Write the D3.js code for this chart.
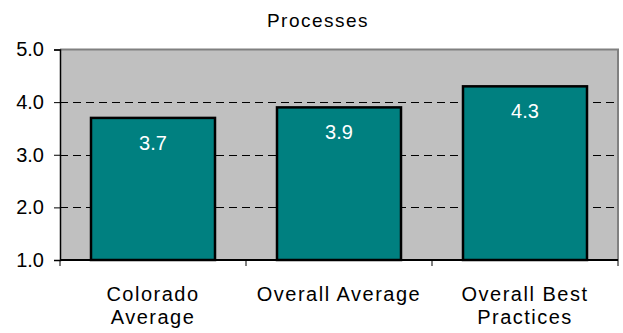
<!DOCTYPE html>
<html>
<head>
<meta charset="utf-8">
<script src="https://cdn.jsdelivr.net/npm/d3@7"></script>
<style>
  html, body { margin: 0; padding: 0; background: #fff; }
  svg { display: block; }
  text { font-family: "Liberation Sans", Arial, sans-serif; }
</style>
</head>
<body>
<svg id="chart" width="623" height="333"></svg>
<script>
// Chart data
const title = "Processes";
const categories = ["Colorado Average", "Overall Average", "Overall Best Practices"];
const categoryLines = [["Colorado", "Average"], ["Overall Average"], ["Overall Best", "Practices"]];
const values = [3.7, 3.9, 4.3];
const yTicks = [1, 2, 3, 4, 5];
const gridTicks = [2, 3, 4];

const svg = d3.select("#chart");
const plot = { left: 60, right: 618, top: 49.5, bottom: 260 };

const x = d3.scaleBand()
  .domain(categories)
  .range([plot.left, plot.right])
  .paddingInner(1 / 3)
  .paddingOuter(1 / 6);

const y = d3.scaleLinear()
  .domain([1, 5])
  .range([plot.bottom, plot.top]);

// Plot background and frame
svg.append("rect")
  .attr("x", plot.left).attr("y", plot.top)
  .attr("width", plot.right - plot.left)
  .attr("height", plot.bottom - plot.top)
  .attr("fill", "#c0c0c0");
svg.append("path")
  .attr("d", `M${plot.left},${plot.top}H${plot.right}V${plot.bottom}`)
  .attr("fill", "none")
  .attr("stroke", "#808080")
  .attr("stroke-width", 2);

// Dashed gridlines
svg.append("g")
  .selectAll("line")
  .data(gridTicks)
  .join("line")
  .attr("x1", plot.left).attr("x2", plot.right)
  .attr("y1", d => Math.round(y(d)) + 0.5).attr("y2", d => Math.round(y(d)) + 0.5)
  .attr("stroke", "#000")
  .attr("stroke-width", 1)
  .attr("stroke-dasharray", "8,5");

// Bars
svg.append("g")
  .selectAll("rect")
  .data(categories)
  .join("rect")
  .attr("x", d => x(d))
  .attr("y", (d, i) => y(values[i]))
  .attr("width", x.bandwidth())
  .attr("height", (d, i) => y(1) - y(values[i]))
  .attr("fill", "#008080")
  .attr("stroke", "#000")
  .attr("stroke-width", 2.5);

// Value labels inside bars
svg.append("g")
  .selectAll("text")
  .data(categories)
  .join("text")
  .attr("x", d => x(d) + x.bandwidth() / 2)
  .attr("y", (d, i) => y(values[i]) + 32)
  .attr("text-anchor", "middle")
  .attr("fill", "#fff")
  .attr("font-size", 20)
  .text((d, i) => d3.format(".1f")(values[i]));

// Y axis
const yAxis = svg.append("g")
  .attr("transform", `translate(${plot.left},0)`)
  .call(d3.axisLeft(y).tickValues(yTicks).tickFormat(d3.format(".1f")).tickSize(6).tickPadding(10));
yAxis.select(".domain").attr("stroke", "#000").attr("stroke-width", 1.5);
yAxis.selectAll(".tick line").attr("stroke", "#000");
yAxis.selectAll(".tick text")
  .attr("font-family", "Liberation Sans, Arial, sans-serif")
  .attr("font-size", 20)
  .attr("fill", "#000");

// X axis with ticks at category boundaries
const xAxis = svg.append("g")
  .attr("transform", `translate(0,${plot.bottom})`);
xAxis.append("line")
  .attr("x1", plot.left).attr("x2", plot.right)
  .attr("stroke", "#000").attr("stroke-width", 2);
const step = x.step();
const boundaries = d3.range(categories.length + 1).map(i => plot.left + i * step);
xAxis.selectAll("line.tick")
  .data(boundaries)
  .join("line")
  .attr("class", "tick")
  .attr("x1", d => d).attr("x2", d => d)
  .attr("y1", 0).attr("y2", 6)
  .attr("stroke", "#000");

// Category labels
const catText = svg.append("g")
  .selectAll("text")
  .data(categories)
  .join("text")
  .attr("x", d => x(d) + x.bandwidth() / 2)
  .attr("y", 301)
  .attr("text-anchor", "middle")
  .attr("font-size", 20)
  .attr("letter-spacing", 1.5)
  .attr("fill", "#000");
catText.selectAll("tspan")
  .data((d, i) => categoryLines[i])
  .join("tspan")
  .attr("x", function () { return this.parentNode.getAttribute("x"); })
  .attr("dy", (d, i) => i === 0 ? 0 : 23)
  .text(d => d);

// Title
svg.append("text")
  .attr("x", 318)
  .attr("y", 27)
  .attr("text-anchor", "middle")
  .attr("font-size", 19)
  .attr("letter-spacing", 1.5)
  .attr("fill", "#000")
  .text(title);
</script>
</body>
</html>
